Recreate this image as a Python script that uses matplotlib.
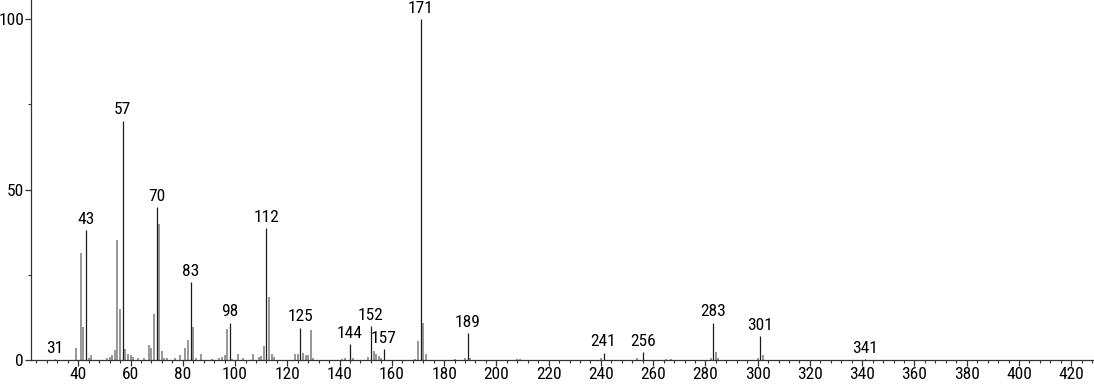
import numpy as np
import matplotlib
matplotlib.use("Agg")
import matplotlib.pyplot as plt
from matplotlib import font_manager
from matplotlib.ticker import MultipleLocator, FixedLocator

# narrow sans if there is one, else plain Arial-like
names = {f.name for f in font_manager.fontManager.ttflist}
cands = ['Liberation Sans Narrow', 'DejaVu Sans Condensed', 'Roboto Condensed',
         'Open Sans Condensed', 'Noto Sans Condensed']
narrow = [c for c in cands if c in names]
if narrow:
    plt.rcParams['font.family'] = [narrow[0], 'Liberation Sans']
    fs = 12.5
else:
    plt.rcParams['font.family'] = ['Liberation Sans', 'DejaVu Sans']
    fs = 11
plt.rcParams['font.stretch'] = 'condensed'

# minor (unlabelled) peaks: m/z, relative intensity
mz_minor = [39, 41, 42, 44, 45, 51, 52, 53, 54, 55, 56, 58, 59, 60, 61, 63, 65,
            67, 68, 69, 71, 72, 73, 74, 77, 79, 81, 82, 84, 85, 87, 91, 94, 95,
            96, 97, 99, 101, 103, 107, 109, 110, 111, 113, 114, 115, 123, 124,
            126, 127, 128, 129, 130, 141, 142, 145, 151, 153, 154, 155, 156,
            169, 170, 172, 173, 184, 188, 190, 208, 209, 240, 254, 265, 267,
            282, 284, 285, 300, 302]
int_minor = [3.6, 31.5, 9.7, 0.5, 1.4, 0.5, 1.0, 1.5, 2.9, 35.3, 15.1, 3.2, 1.7,
             1.5, 0.9, 0.5, 0.5, 4.4, 3.4, 13.6, 40.0, 2.6, 0.6, 0.6, 0.5, 1.4,
             3.4, 6.0, 9.7, 0.6, 1.7, 0.4, 0.5, 0.9, 1.5, 9.1, 0.4, 1.8, 0.5,
             1.8, 0.8, 1.2, 4.2, 18.5, 1.7, 0.8, 1.9, 1.9, 2.0, 1.6, 1.4, 8.8,
             0.5, 0.4, 0.6, 0.7, 1.0, 2.6, 1.7, 1.1, 0.5, 0.4, 5.6, 10.9, 1.8,
             0.4, 0.7, 0.5, 0.4, 0.4, 0.5, 0.5, 0.4, 0.4, 0.6, 2.4, 0.5, 0.5,
             1.5]

# labelled peaks
mz_lab = [31, 43, 57, 70, 83, 98, 112, 125, 144, 152, 157, 171, 189, 241, 256,
          283, 301, 341]
int_lab = [0.3, 38.0, 70.2, 44.8, 22.9, 11.0, 38.7, 9.5, 4.7, 10.0, 3.1, 100.0,
           7.8, 2.2, 2.3, 11.0, 7.0, 0.3]

fig = plt.figure(figsize=(10.94, 3.84), dpi=100)
ax = fig.add_axes([0.0283, 0.0625, 0.9717, 0.9375])

ax.vlines(mz_minor, 0, int_minor, color='#7a7a7a', lw=1.1)
ax.vlines(mz_lab, 0, int_lab, color='#1a1a1a', lw=0.9)
for m, h in zip(mz_lab, int_lab):
    ax.text(m, h + 1.0, str(m), ha='center', va='bottom', fontsize=fs)

ax.set_xlim(21.9, 428.7)
ax.set_ylim(0, 105.6)

ax.xaxis.set_major_locator(FixedLocator(np.arange(40, 421, 20)))
ax.xaxis.set_minor_locator(MultipleLocator(4))
ax.yaxis.set_major_locator(FixedLocator([0, 50, 100]))
ax.yaxis.set_minor_locator(FixedLocator([25, 75]))

for s in ['top', 'right']:
    ax.spines[s].set_visible(False)
for s in ['left', 'bottom']:
    ax.spines[s].set_color('#333333')
    ax.spines[s].set_linewidth(0.9)

ax.tick_params(which='major', length=4, width=0.9, color='#333333',
               labelsize=fs, pad=1)
ax.tick_params(which='minor', length=2.5, width=0.8, color='#333333')

fig.savefig('out.png', dpi=100)
